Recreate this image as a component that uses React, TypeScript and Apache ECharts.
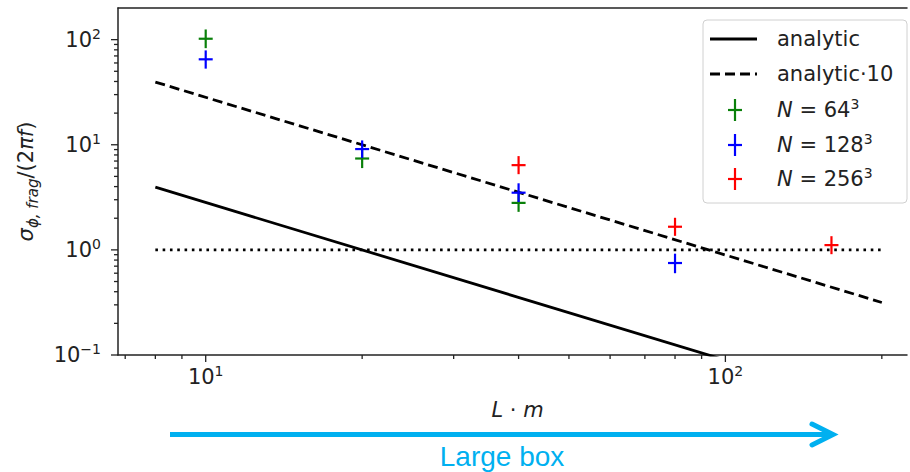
import React, { useEffect, useRef } from 'react';
import * as echarts from 'echarts';

// ---- axis ranges ----
const X_MIN = 6.78;
const X_MAX = 223.6;
const Y_MIN = 0.1;
const Y_MAX = 200;

// ---- reference lines ----
const lineX = [8, 200];
const analyticY = [3.95, 0.0316];
const analytic10Y = [39.5, 0.316];
const unityY = [1, 1];

// ---- simulation points (value, lower, upper) ----
const n64X = [10, 20, 40];
const n64Y = [102, 7.4, 2.8];
const n64Lo = [83, 6.0, 2.3];
const n64Hi = [125, 9.0, 3.4];

const n128X = [10, 20, 40, 80];
const n128Y = [65, 9.1, 3.5, 0.75];
const n128Lo = [53, 7.5, 2.85, 0.6];
const n128Hi = [79, 11, 4.3, 0.92];

const n256X = [40, 80, 160];
const n256Y = [6.4, 1.66, 1.11];
const n256Lo = [5.25, 1.36, 0.91];
const n256Hi = [7.8, 2.02, 1.35];

// ---- ticks ----
const majorX = [10, 100];
const minorX = [7, 8, 9, 20, 30, 40, 50, 60, 70, 80, 90, 200];
const majorY = [0.1, 1, 10, 100];
const minorY = [0.2, 0.3, 0.4, 0.5, 0.6, 0.7, 0.8, 0.9, 2, 3, 4, 5, 6, 7, 8, 9, 20, 30, 40, 50, 60, 70, 80, 90];

const GREEN = '#0a800a';
const BLUE = '#0000ff';
const RED = '#ff0000';
const INK = '#222222';
const CYAN = '#00b0f0';
const FONT = 'DejaVu Sans';

const powLabel = (v: number) => {
  const e = Math.log10(v);
  const r = Math.round(e);
  if (Math.abs(e - r) > 1e-6) return '';
  return `{b|10}{s|${r < 0 ? '\u2212' + -r : r}}`;
};

const labelRich = {
  b: { fontSize: 21, fontFamily: FONT, color: INK, lineHeight: 26 },
  s: { fontSize: 14, fontFamily: FONT, color: INK, lineHeight: 14, verticalAlign: 'top' as const },
};

const errSeries = (name: string, xs: number[], ys: number[], lo: number[], hi: number[], color: string) => ({
  type: 'custom',
  name,
  coordinateSystem: 'cartesian2d',
  dimensions: ['x', 'y', 'lo', 'hi'],
  encode: { x: 0, y: 1 },
  data: xs.map((x, i) => [x, ys[i], lo[i], hi[i]]),
  z: 5,
  renderItem: (_p: any, api: any) => {
    const x = api.value(0);
    const c = api.coord([x, api.value(1)]);
    const l = api.coord([x, api.value(2)]);
    const h = api.coord([x, api.value(3)]);
    const st = { stroke: color, lineWidth: 2.2 };
    return {
      type: 'group',
      children: [
        { type: 'line', shape: { x1: c[0], y1: h[1], x2: c[0], y2: l[1] }, style: st },
        { type: 'line', shape: { x1: c[0] - 7, y1: c[1], x2: c[0] + 7, y2: c[1] }, style: st },
      ],
    };
  },
});

const xTickSeries = (vals: number[], len: number) => ({
  type: 'custom',
  coordinateSystem: 'cartesian2d',
  data: vals.map((v) => [v, Y_MIN]),
  silent: true,
  z: 6,
  renderItem: (_p: any, api: any) => {
    const p = api.coord([api.value(0), api.value(1)]);
    return { type: 'line', shape: { x1: p[0], y1: p[1], x2: p[0], y2: p[1] + len }, style: { stroke: INK, lineWidth: 1.3 } };
  },
});

const yTickSeries = (vals: number[], len: number) => ({
  type: 'custom',
  coordinateSystem: 'cartesian2d',
  data: vals.map((v) => [X_MIN, v]),
  silent: true,
  z: 6,
  renderItem: (_p: any, api: any) => {
    const p = api.coord([api.value(0), api.value(1)]);
    return { type: 'line', shape: { x1: p[0] - len, y1: p[1], x2: p[0], y2: p[1] }, style: { stroke: INK, lineWidth: 1.3 } };
  },
});

const legendText = (y: number, text: string) => ({
  type: 'text',
  x: 777,
  y,
  style: {
    text,
    font: `21px "${FONT}"`,
    fill: INK,
    align: 'left',
    verticalAlign: 'middle',
    textAlign: 'left',
    textVerticalAlign: 'middle',
    rich: {
      i: { fontSize: 21, fontFamily: FONT, fontStyle: 'italic', fill: INK, lineHeight: 26 },
      n: { fontSize: 21, fontFamily: FONT, fill: INK, lineHeight: 26 },
      s: { fontSize: 14, fontFamily: FONT, fill: INK, lineHeight: 14, verticalAlign: 'top' },
    },
  },
});

const legendPlus = (y: number, color: string) => ({
  type: 'group',
  children: [
    { type: 'line', shape: { x1: 735, y1: y - 11, x2: 735, y2: y + 11 }, style: { stroke: color, lineWidth: 2.2 } },
    { type: 'line', shape: { x1: 728, y1: y, x2: 742, y2: y }, style: { stroke: color, lineWidth: 2.2 } },
  ],
});

const axisLineStyle = { show: true, onZero: false, lineStyle: { color: INK, width: 1.5 } };

export default function App() {
  const ref = useRef<HTMLDivElement>(null);
  useEffect(() => {
    if (!ref.current) return;
    const chart = echarts.init(ref.current, null, { renderer: 'svg' });
    const option: any = {
      animation: false,
      backgroundColor: '#ffffff',
      grid: {
        left: 118,
        top: 8,
        right: 0,
        height: 347,
        show: false,
      },
      xAxis: [
        {
          type: 'log',
          logBase: 10,
          min: X_MIN,
          max: X_MAX,
          axisLine: axisLineStyle,
          axisTick: { show: false },
          splitLine: { show: false },
          axisLabel: { formatter: powLabel, rich: labelRich, margin: 9, hideOverlap: false },
          name: '{i|L}{n| \u00b7 }{i|m}',
          nameLocation: 'middle',
          nameGap: 44,
          nameTextStyle: {
            padding: [0, 0, 0, 10],
            rich: {
              i: { fontSize: 21, fontFamily: FONT, fontStyle: 'italic', color: INK },
              n: { fontSize: 21, fontFamily: FONT, color: INK },
            },
          },
        },
        {
          type: 'log',
          logBase: 10,
          position: 'top',
          min: X_MIN,
          max: X_MAX,
          axisLine: axisLineStyle,
          axisTick: { show: false },
          axisLabel: { show: false },
          splitLine: { show: false },
        },
      ],
      yAxis: {
        type: 'log',
        logBase: 10,
        min: Y_MIN,
        max: Y_MAX,
        axisLine: axisLineStyle,
        axisTick: { show: false },
        splitLine: { show: false },
        axisLabel: { formatter: powLabel, rich: labelRich, margin: 17, hideOverlap: false },
        name: '{g|\u03c3}{sub|\u03d5, frag}{n|/(2}{g|\u03c0f}{n|)}',
        nameLocation: 'middle',
        nameRotate: 90,
        nameGap: 78,
        nameTextStyle: {
          rich: {
            g: { fontSize: 21, fontFamily: FONT, fontStyle: 'italic', color: INK, lineHeight: 28 },
            n: { fontSize: 21, fontFamily: FONT, color: INK, lineHeight: 28 },
            sub: { fontSize: 15, fontFamily: FONT, fontStyle: 'italic', color: INK, lineHeight: 28, verticalAlign: 'bottom' },
          },
        },
      },
      series: [
        {
          type: 'line',
          name: 'analytic',
          data: lineX.map((x, i) => [x, analyticY[i]]),
          symbol: 'none',
          clip: true,
          silent: true,
          lineStyle: { color: '#000', width: 2.8 },
          z: 3,
        },
        {
          type: 'line',
          name: 'analytic\u00b710',
          data: lineX.map((x, i) => [x, analytic10Y[i]]),
          symbol: 'none',
          clip: true,
          silent: true,
          lineStyle: { color: '#000', width: 2.8, type: [10, 5] },
          z: 3,
        },
        {
          type: 'line',
          name: 'unity',
          data: lineX.map((x, i) => [x, unityY[i]]),
          symbol: 'none',
          clip: true,
          silent: true,
          lineStyle: { color: '#000', width: 2.8, type: [2.6, 4.7] },
          z: 3,
        },
        errSeries('N = 64\u00b3', n64X, n64Y, n64Lo, n64Hi, GREEN),
        errSeries('N = 128\u00b3', n128X, n128Y, n128Lo, n128Hi, BLUE),
        errSeries('N = 256\u00b3', n256X, n256Y, n256Lo, n256Hi, RED),
        xTickSeries(majorX, 7),
        xTickSeries(minorX, 4),
        yTickSeries(majorY, 7),
        yTickSeries(minorY, 4),
      ],
      graphic: [
        {
          type: 'group',
          z: 30,
          children: [
            {
              type: 'rect',
              shape: { x: 703, y: 20, width: 204, height: 183, r: 4 },
              style: { fill: 'rgba(255,255,255,0.85)', stroke: '#d0d0d0', lineWidth: 1 },
            },
            { type: 'line', shape: { x1: 710, y1: 39, x2: 757, y2: 39 }, style: { stroke: '#000', lineWidth: 2.8 } },
            { type: 'line', shape: { x1: 710, y1: 74, x2: 757, y2: 74 }, style: { stroke: '#000', lineWidth: 2.8, lineDash: [10, 5] } },
            legendPlus(110, GREEN),
            legendPlus(145, BLUE),
            legendPlus(179, RED),
            legendText(39, 'analytic'),
            legendText(74, 'analytic\u00b710'),
            legendText(110, '{i|N}{n| = 64}{s|3}'),
            legendText(145, '{i|N}{n| = 128}{s|3}'),
            legendText(179, '{i|N}{n| = 256}{s|3}'),
          ],
        },
        {
          type: 'group',
          z: 30,
          children: [
            { type: 'line', shape: { x1: 170, y1: 434.5, x2: 831, y2: 434.5 }, style: { stroke: CYAN, lineWidth: 5 } },
            {
              type: 'polyline',
              shape: { points: [[812, 424], [833, 434.5], [812, 445]] },
              style: { stroke: CYAN, lineWidth: 5, fill: null, lineCap: 'round', lineJoin: 'miter' },
            },
            {
              type: 'text',
              x: 502,
              y: 456,
              style: {
                text: 'Large box',
                font: '28px "Liberation Sans"',
                fill: CYAN,
                align: 'center',
                verticalAlign: 'middle',
                textAlign: 'center',
                textVerticalAlign: 'middle',
              },
            },
          ],
        },
      ],
    };
    chart.setOption(option);
    return () => chart.dispose();
  }, []);
  return <div ref={ref} style={{ position: 'absolute', left: 0, top: 0, width: 910, height: 472 }} />;
}
